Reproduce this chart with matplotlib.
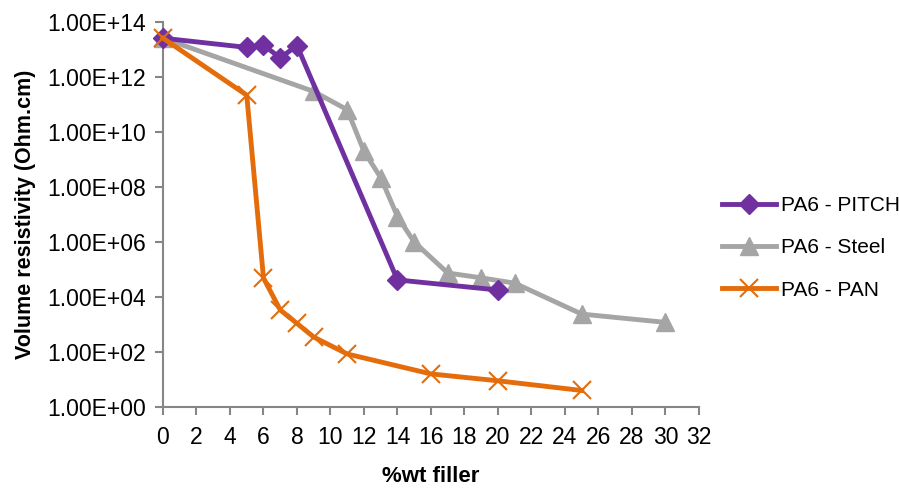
import numpy as np
import matplotlib
matplotlib.use("Agg")
from matplotlib import pyplot as plt
from matplotlib.ticker import FixedLocator, FuncFormatter

plt.rcParams['font.family'] = ['Liberation Sans Narrow', 'Liberation Sans', 'DejaVu Sans']

# --- data ---
pitch_x = [0, 5, 6, 7, 8, 14, 20]
pitch_y = [2.6e13, 1.2e13, 1.45e13, 5e12, 1.4e13, 4.2e4, 1.8e4]

steel_x = [0, 9, 11, 12, 13, 14, 15, 17, 19, 21, 25, 30]
steel_y = [2.6e13, 3e11, 6.5e10, 2e9, 2.2e8, 8.5e6, 1e6, 7.5e4, 5e4, 3.2e4, 2.4e3, 1.2e3]

pan_x = [0, 5, 6, 7, 8, 9, 11, 16, 20, 25]
pan_y = [2.6e13, 2.2e11, 4.9e4, 3.4e3, 1.1e3, 350, 85, 16, 9, 4]

x_ticks = list(range(0, 33, 2))
y_ticks = [1e0, 1e2, 1e4, 1e6, 1e8, 1e10, 1e12, 1e14]

purple = '#7030A0'
grey = '#A5A5A5'
orange = '#E46C0A'
axis_col = '#868686'

fig = plt.figure(figsize=(8.99, 4.91), dpi=100)
ax = fig.add_axes([0.1813, 0.171, 0.7775 - 0.1813, 0.955 - 0.171])

ax.plot(pitch_x, pitch_y, color=purple, lw=3.5, marker='D', ms=10.5,
        mec=purple, mfc=purple, label='PA6 - PITCH', clip_on=False, zorder=3)
ax.plot(steel_x, steel_y, color=grey, lw=3.5, marker='^', ms=13,
        mec=grey, mfc=grey, label='PA6 - Steel', clip_on=False, zorder=2)
ax.plot(pan_x, pan_y, color=orange, lw=3.5, marker='x', ms=13, mew=1.5,
        mec=orange, label='PA6 - PAN', clip_on=False, zorder=4)

ax.set_yscale('log')
ax.set_xlim(0, 32)
ax.set_ylim(1, 1e14)
ax.xaxis.set_major_locator(FixedLocator(x_ticks))
ax.yaxis.set_major_locator(FixedLocator(y_ticks))
ax.yaxis.set_minor_locator(FixedLocator([]))
ax.yaxis.set_major_formatter(FuncFormatter(lambda v, p: f"{v:.2E}"))

for s in ['top', 'right']:
    ax.spines[s].set_visible(False)
for s in ['left', 'bottom']:
    ax.spines[s].set_color(axis_col)
    ax.spines[s].set_linewidth(1.5)
ax.tick_params(axis='both', colors=axis_col, length=6, width=1.5,
               labelcolor='black', labelsize=16.5)
ax.tick_params(axis='x', pad=8)
ax.tick_params(axis='y', pad=6)

ax.set_xlabel('%wt filler', fontsize=16, fontweight='bold', labelpad=12)
ax.set_ylabel('Volume resistivity (Ohm.cm)', fontsize=15.5, fontweight='bold', labelpad=8)

fig.legend(loc='center left', bbox_to_anchor=(0.803, 0.495), frameon=False,
           fontsize=15, handlelength=2.6, handletextpad=0.25, labelspacing=1.12,
           borderaxespad=0, borderpad=0)

fig.savefig('out.png', dpi=100)
